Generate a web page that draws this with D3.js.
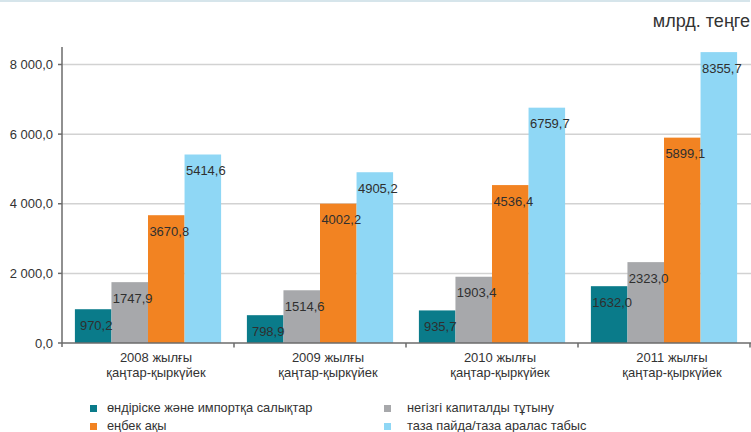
<!DOCTYPE html>
<html><head><meta charset="utf-8">
<script src="https://cdn.jsdelivr.net/npm/d3@7"></script>
<style>
html,body{margin:0;padding:0;background:#fff;}
svg{display:block;font-family:"Liberation Sans",Arial,sans-serif;}
</style></head>
<body>
<svg id="chart" width="751" height="432"></svg>
<script>
const categories = ["2008 жылғы|қаңтар-қыркүйек","2009 жылғы|қаңтар-қыркүйек","2010 жылғы|қаңтар-қыркүйек","2011 жылғы|қаңтар-қыркүйек"];
const seriesNames = ["өндіріске және импортқа салықтар","негізгі капиталды тұтыну","еңбек ақы","таза пайда/таза аралас табыс"];
const taxes = [970.2, 798.9, 935.7, 1632.0];
const capital = [1747.9, 1514.6, 1903.4, 2323.0];
const wages = [3670.8, 4002.2, 4536.4, 5899.1];
const profit = [5414.6, 4905.2, 6759.7, 8355.7];
const yTicks = [0, 2000, 4000, 6000, 8000];
const unitLabel = "млрд. теңге";

const series = [taxes, capital, wages, profit];
const colors = ["#0a7b8a", "#a7a8ab", "#f28322", "#8fd7f5"];

const locale = d3.formatLocale({decimal: ",", thousands: " ", grouping: [3], currency: ["", ""]});
const fmtTick = locale.format(",.1f");
const fmtVal = locale.format(".1f");

const svg = d3.select("#chart");
const x0 = 62, x1 = 750;
const y = d3.scaleLinear().domain([0, 8000]).range([343, 64.5]);
const xg = d3.scaleBand().domain(d3.range(categories.length)).range([x0, x1]).paddingInner(0.15).paddingOuter(0.075);
const xs = d3.scaleBand().domain(d3.range(series.length)).range([0, xg.bandwidth()]);

// top border
svg.append("line").attr("x1", 0).attr("x2", 750).attr("y1", 1).attr("y2", 1)
  .attr("stroke", "#d6e5eb").attr("stroke-width", 2);

// unit
svg.append("text").attr("x", 750).attr("y", 27).attr("text-anchor", "end")
  .attr("font-size", 18).attr("fill", "#333").text(unitLabel);

// gridlines
svg.append("g").selectAll("line").data(yTicks.filter(d => d > 0)).join("line")
  .attr("x1", x0).attr("x2", 751).attr("y1", d => y(d)).attr("y2", d => y(d))
  .attr("stroke", "#d2d2d2").attr("stroke-width", 1.5);

// bars
const groups = svg.append("g").selectAll("g").data(categories).join("g")
  .attr("transform", (d, i) => `translate(${xg(i)},0)`);
groups.each(function(c, ci) {
  const g = d3.select(this);
  series.forEach((s, si) => {
    g.append("rect").attr("x", xs(si)).attr("width", xs.bandwidth())
      .attr("y", y(s[ci])).attr("height", y(0) - y(s[ci])).attr("fill", colors[si]);
  });
  series.forEach((s, si) => {
    g.append("text").attr("x", xs(si) + xs.bandwidth() / 2 + 3).attr("y", y(s[ci]) + 20.5)
      .attr("text-anchor", "middle").attr("font-size", 13).attr("fill", "#2f2f2f")
      .text(fmtVal(s[ci]));
  });
});

// y axis
const yAxis = svg.append("g");
yAxis.append("line").attr("x1", x0).attr("x2", x0).attr("y1", 47).attr("y2", y(0) + 4)
  .attr("stroke", "#6b6b6b").attr("stroke-width", 1.5);
yAxis.selectAll("line.t").data(yTicks).join("line").attr("class", "t")
  .attr("x1", x0 - 4).attr("x2", x0).attr("y1", d => y(d)).attr("y2", d => y(d))
  .attr("stroke", "#6b6b6b").attr("stroke-width", 1.5);
yAxis.selectAll("text").data(yTicks).join("text")
  .attr("x", 53).attr("y", d => y(d) + 4.5).attr("text-anchor", "end")
  .attr("font-size", 13).attr("fill", "#333").text(d => fmtTick(d));

// x axis
const xAxis = svg.append("g");
xAxis.append("line").attr("x1", x0).attr("x2", 751).attr("y1", y(0)).attr("y2", y(0))
  .attr("stroke", "#6b6b6b").attr("stroke-width", 1.5);
const bounds = d3.range(1, categories.length + 1).map(i => x0 + xg.step() * i);
xAxis.selectAll("line.t").data(bounds).join("line").attr("class", "t")
  .attr("x1", d => d).attr("x2", d => d).attr("y1", y(0)).attr("y2", y(0) + 4.5)
  .attr("stroke", "#6b6b6b").attr("stroke-width", 1.5);
const xl = xAxis.selectAll("text").data(categories).join("text")
  .attr("text-anchor", "middle").attr("font-size", 13).attr("fill", "#333");
xl.each(function(c, i) {
  const t = d3.select(this);
  const cx = xg(i) + xg.bandwidth() / 2 + 8;
  c.split("|").forEach((ln, k) => {
    t.append("tspan").attr("x", cx).attr("y", 362 + k * 15).text(ln);
  });
});

// legend
const legPos = [[90, 405], [384, 405], [90, 423], [384, 423]];
const legTextDx = [17, 23, 17, 23];
const legOrder = [0, 1, 2, 3];
const leg = svg.append("g").selectAll("g").data(legOrder).join("g")
  .attr("transform", (d, i) => `translate(${legPos[i][0]},${legPos[i][1]})`);
leg.append("rect").attr("width", 7).attr("height", 7).attr("fill", d => colors[d]);
leg.append("text").attr("x", (d, i) => legTextDx[i]).attr("y", 7).attr("font-size", 12.8).attr("fill", "#333")
  .text(d => seriesNames[d]);
</script>
</body></html>
